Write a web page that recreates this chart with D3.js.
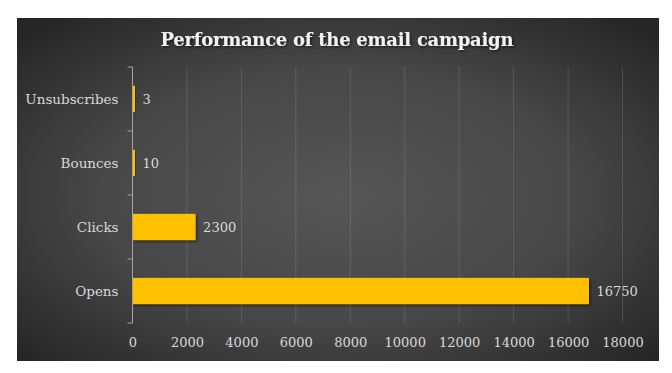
<!DOCTYPE html>
<html>
<head>
<meta charset="utf-8">
<script src="https://cdn.jsdelivr.net/npm/d3@7"></script>
<style>
  body { margin: 0; background: #fff; }
  svg { display: block; }
</style>
</head>
<body>
<div class="chart"></div>
<script>
// chart data
let categories = ['Opens', 'Clicks', 'Bounces', 'Unsubscribes']
let values = [16750, 2300, 10, 3]
let xTicks = [0, 2000, 4000, 6000, 8000, 10000, 12000, 14000, 16000, 18000]
let title = 'Performance of the email campaign'

let w = 672
let h = 373
let plotLeft = 132.5, plotRight = 622.5, plotTop = 67, plotBottom = 323

let svg = d3.select('.chart').append('svg')
  .attr('width', w)
  .attr('height', h)

let defs = svg.append('defs')

// radial background like the excel style
let grad = defs.append('radialGradient')
  .attr('id', 'bg')
  .attr('cx', '50%').attr('cy', '52%').attr('r', '68%')
grad.append('stop').attr('offset', '0%').attr('stop-color', '#565656')
grad.append('stop').attr('offset', '55%').attr('stop-color', '#474747')
grad.append('stop').attr('offset', '100%').attr('stop-color', '#262626')

let shadow = defs.append('filter').attr('id', 'shadow')
  .attr('x', '-10%').attr('y', '-20%').attr('width', '130%').attr('height', '160%')
shadow.append('feDropShadow')
  .attr('dx', 1.5).attr('dy', 1.5).attr('stdDeviation', 1.2)
  .attr('flood-color', '#000').attr('flood-opacity', 0.55)

svg.append('rect')
  .attr('x', 17).attr('y', 18)
  .attr('width', 642).attr('height', 343)
  .attr('fill', 'url(#bg)')

// title
svg.append('text')
  .attr('x', 337).attr('y', 46)
  .attr('text-anchor', 'middle')
  .attr('textLength', 353)
  .attr('lengthAdjust', 'spacing')
  .style('font-family', '"DejaVu Serif", serif')
  .style('font-weight', 'bold')
  .style('font-size', '18px')
  .style('fill', '#f2f2f2')
  .attr('filter', 'url(#shadow)')
  .text(title)

let x = d3.scaleLinear().domain([0, 18000]).range([plotLeft, plotRight])
let y = d3.scaleBand().domain(categories).range([plotBottom, plotTop]).paddingInner(0.59).paddingOuter(0.295)

// gridlines
svg.append('g').selectAll('line')
  .data(xTicks.slice(1))
  .enter()
  .append('line')
  .attr('x1', (d) => x(d)).attr('x2', (d) => x(d))
  .attr('y1', plotTop).attr('y2', plotBottom)
  .attr('stroke', '#ffffff').attr('stroke-opacity', 0.13)
  .attr('stroke-width', 1)

// x tick labels
let xAxis = svg.append('g')
  .attr('transform', `translate(0,${plotBottom})`)
  .call(d3.axisBottom(x).tickValues(xTicks).tickSize(0).tickPadding(15).tickFormat(d3.format('d')))
xAxis.select('.domain').remove()
xAxis.selectAll('text')
  .style('font-family', '"DejaVu Serif", serif')
  .style('font-size', '13px')
  .style('fill', '#d9d9d9')

// y axis
let yScaleAxis = d3.scalePoint().domain(d3.range(categories.length + 1)).range([plotBottom, plotTop])
let yAxis = svg.append('g')
  .attr('transform', `translate(${plotLeft},0)`)
yAxis.append('line')
  .attr('x1', 0).attr('x2', 0).attr('y1', plotTop).attr('y2', plotBottom)
  .attr('stroke', '#a6a6a6')
yAxis.selectAll('.tk')
  .data(d3.range(categories.length + 1))
  .enter()
  .append('line')
  .attr('x1', -5).attr('x2', 0)
  .attr('y1', (d) => yScaleAxis(d)).attr('y2', (d) => yScaleAxis(d))
  .attr('stroke', '#a6a6a6')
yAxis.selectAll('text')
  .data(categories)
  .enter()
  .append('text')
  .attr('x', -14)
  .attr('y', (d) => y(d) + y.bandwidth() / 2)
  .attr('dy', '0.35em')
  .attr('text-anchor', 'end')
  .style('font-family', '"DejaVu Serif", serif')
  .style('font-size', '13.5px')
  .style('fill', '#d9d9d9')
  .text((d) => d)

// bars (drawn over the axis line so tiny ones stay visible)
svg.append('g').selectAll('rect')
  .data(values)
  .enter()
  .append('rect')
  .attr('x', x(0) + 0.5)
  .attr('y', (d, i) => y(categories[i]))
  .attr('width', (d) => Math.max(x(d) - x(0), 2))
  .attr('height', y.bandwidth())
  .attr('fill', '#ffc000')
  .attr('filter', 'url(#shadow)')

// value labels
svg.append('g').selectAll('text')
  .data(values)
  .enter()
  .append('text')
  .attr('x', (d) => Math.max(x(d), x(0) + 2) + 8)
  .attr('y', (d, i) => y(categories[i]) + y.bandwidth() / 2)
  .attr('dy', '0.35em')
  .style('font-family', '"DejaVu Serif", serif')
  .style('font-size', '13px')
  .style('fill', '#d9d9d9')
  .text((d) => d)
</script>
</body>
</html>
